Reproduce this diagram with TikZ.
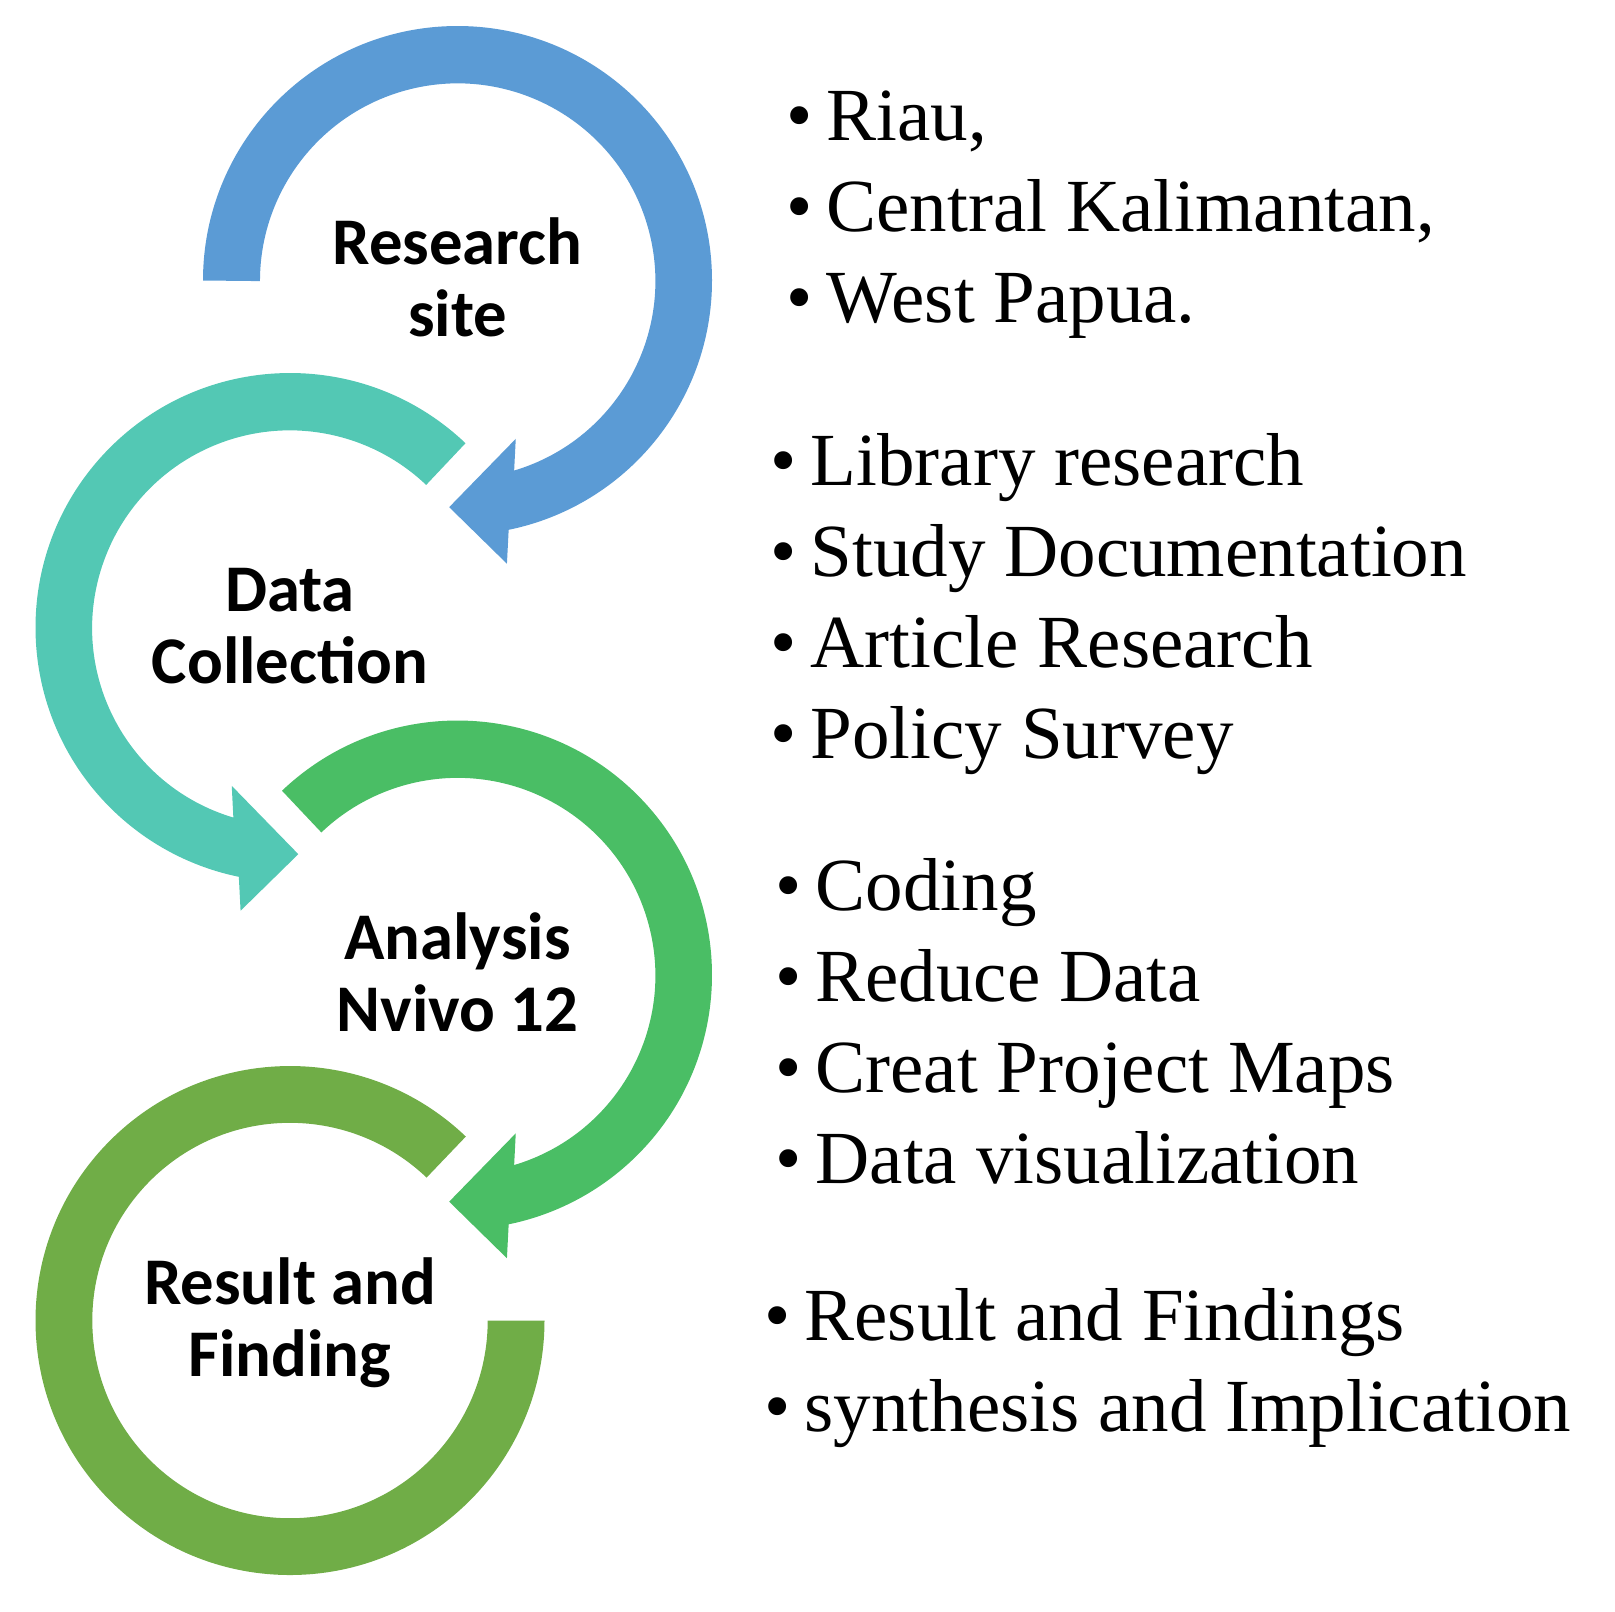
\documentclass[tikz,border=0pt]{standalone}
\usepackage{fontspec}
\setmainfont{Liberation Serif}
\newfontfamily\stagefont{Carlito}
\definecolor{ringblue}{HTML}{5B9BD5}
\definecolor{ringteal}{HTML}{53C8B4}
\definecolor{ringgreen}{HTML}{4ABE65}
\definecolor{ringolive}{HTML}{70AD47}
\newcommand{\stg}{\vrule width 0pt height 5.04mm depth 2.16mm}
\newcommand{\itm}{\llap{\textbullet\hspace{1.4mm}}\vrule width 0pt height 6.37mm depth 2.73mm}

\begin{document}
\begin{tikzpicture}[
  x=0.1mm, y=0.1mm,
  stage/.style={align=center,inner sep=0pt,yshift=-0.56mm,
    font=\stagefont\bfseries\fontsize{6.67mm}{7.2mm}\selectfont},
  items/.style={align=left,anchor=north west,inner sep=0pt,
    font=\fontsize{7.5mm}{9.1mm}\selectfont},
  pics/ringhead/.style={code={
    \fill (#1:254.5) arc[start angle=#1,end angle=-78.4,radius=254.5]
      -- (-80.1:287.5) -- (-92.1:226.8) -- (-69.8:168.7) -- (-73.4:198.3)
      arc[start angle=-73.4,end angle=#1,radius=197.7] -- cycle;
  }}
]
  \useasboundingbox (0,0) rectangle (1615,-1611);
  \coordinate (c1) at (457.5,-280.5);
  \coordinate (c2) at (290,-627.5);
  \coordinate (c3) at (457.5,-975);
  \coordinate (c4) at (290,-1320.5);

  \pic[fill=ringblue] at (c1) {ringhead=180};
  \pic[fill=ringteal,xscale=-1] at (c2) {ringhead=133.6};
  \pic[fill=ringgreen] at (c3) {ringhead=133.6};
  \fill[ringolive,shift={(c4)}] (46.3:254.5) arc[start angle=46.3,end angle=360,radius=254.5]
    -- (0:197.7) arc[start angle=360,end angle=46.3,radius=197.7] -- cycle;

  \node[stage] (site) at (c1) {\stg Research\\\stg site};
  \node[stage] (collect) at (c2) {\stg Data\\\stg Collection};
  \node[stage] (analysis) at (c3) {\stg Analysis\\\stg Nvivo 12};
  \node[stage] (result) at (c4) {\stg Result and\\\stg Finding};

  \node[items] (sites) at (826,-76.3) {\itm Riau,\\\itm Central Kalimantan,\\\itm West Papua.};
  \node[items] (sources) at (810,-421.3) {\itm Library research\\\itm Study Documentation\\\itm Article Research\\\itm Policy Survey};
  \node[items] (steps) at (815,-845.6) {\itm Coding\\\itm Reduce Data\\\itm Creat Project Maps\\\itm Data visualization};
  \node[items] (outputs) at (804,-1276.3) {\itm Result and Findings\\\itm synthesis and Implication};
\end{tikzpicture}
\end{document}
